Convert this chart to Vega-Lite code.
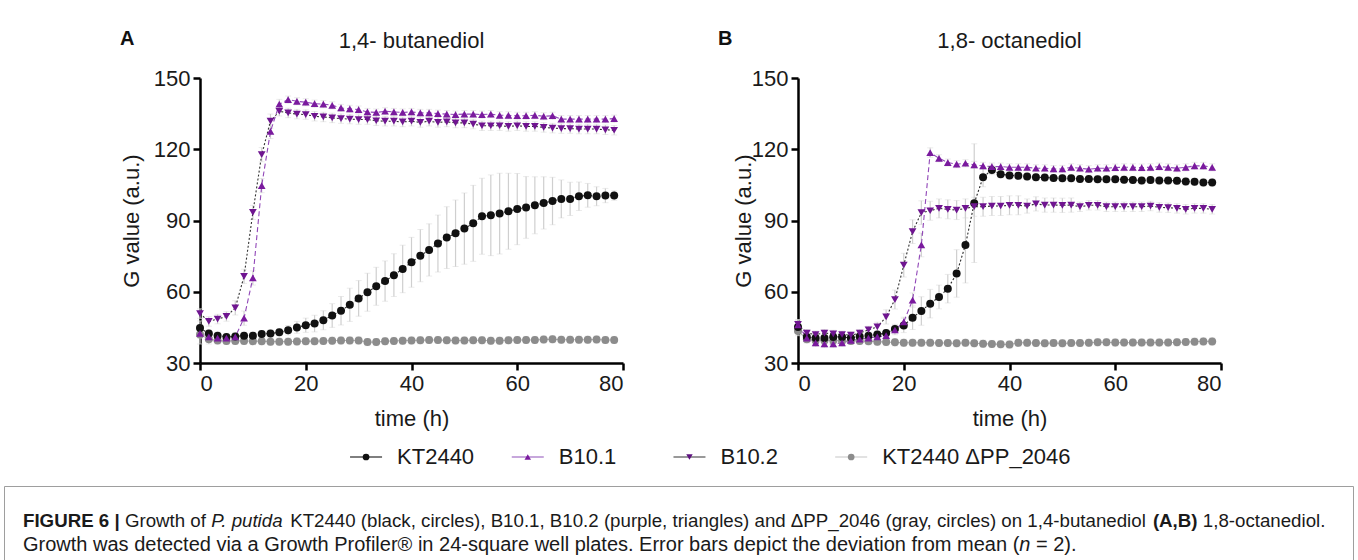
{
"$schema": "https://vega.github.io/schema/vega-lite/v6.json",
"padding": {"left": 3, "top": 28, "right": 0, "bottom": 0},
"background": "white",
"config": {
  "font": "Liberation Sans",
  "view": {"stroke": null},
  "axis": {"grid": false, "domainColor": "#000000", "domainWidth": 2.5, "tickColor": "#000000", "tickWidth": 2.5, "tickSize": 7, "labelFont": "Liberation Sans", "labelFontSize": 22, "labelColor": "#1a1a1a", "labelPadding": 3, "titleFont": "Liberation Sans", "titleFontSize": 22, "titleFontWeight": "normal", "titleColor": "#1a1a1a"},
  "axisX": {"titlePadding": 14}
},
"datasets": {
"labels": [
{"key":"A1","label":"A"},
{"key":"A2","label":"1,4- butanediol"},
{"key":"B1","label":"B"},
{"key":"B2","label":"1,8- octanediol"}
],
"legendrows": [
{"strain":"KT2440"},
{"strain":"B10.1"},
{"strain":"B10.2"},
{"strain":"KT2440 ΔPP_2046"}
],
"growth": [
{"panel":"A","strain":"KT2440","t":0,"g":44.7,"err":3},
{"panel":"A","strain":"KT2440","t":1.67,"g":42.4,"err":1.5},
{"panel":"A","strain":"KT2440","t":3.33,"g":41.5,"err":1.5},
{"panel":"A","strain":"KT2440","t":5,"g":41.0,"err":1.5},
{"panel":"A","strain":"KT2440","t":6.67,"g":41.2,"err":1.5},
{"panel":"A","strain":"KT2440","t":8.33,"g":41.5,"err":1.5},
{"panel":"A","strain":"KT2440","t":10,"g":41.5,"err":1.5},
{"panel":"A","strain":"KT2440","t":11.67,"g":42.2,"err":1.5},
{"panel":"A","strain":"KT2440","t":13.33,"g":42.4,"err":1.5},
{"panel":"A","strain":"KT2440","t":15,"g":42.9,"err":1.5},
{"panel":"A","strain":"KT2440","t":16.67,"g":43.8,"err":2},
{"panel":"A","strain":"KT2440","t":18.33,"g":45.0,"err":2.5},
{"panel":"A","strain":"KT2440","t":20,"g":45.9,"err":3},
{"panel":"A","strain":"KT2440","t":21.67,"g":46.6,"err":3.5},
{"panel":"A","strain":"KT2440","t":23.33,"g":48.0,"err":4},
{"panel":"A","strain":"KT2440","t":25,"g":50.0,"err":5},
{"panel":"A","strain":"KT2440","t":26.67,"g":52.0,"err":6},
{"panel":"A","strain":"KT2440","t":28.33,"g":54.5,"err":7},
{"panel":"A","strain":"KT2440","t":30,"g":57.2,"err":7.5},
{"panel":"A","strain":"KT2440","t":31.67,"g":59.8,"err":8},
{"panel":"A","strain":"KT2440","t":33.33,"g":62.3,"err":8},
{"panel":"A","strain":"KT2440","t":35,"g":64.5,"err":8.5},
{"panel":"A","strain":"KT2440","t":36.67,"g":67.0,"err":9},
{"panel":"A","strain":"KT2440","t":38.33,"g":69.6,"err":10},
{"panel":"A","strain":"KT2440","t":40,"g":72.4,"err":10.5},
{"panel":"A","strain":"KT2440","t":41.67,"g":75.2,"err":11},
{"panel":"A","strain":"KT2440","t":43.33,"g":77.6,"err":11},
{"panel":"A","strain":"KT2440","t":45,"g":80.3,"err":12},
{"panel":"A","strain":"KT2440","t":46.67,"g":82.8,"err":13},
{"panel":"A","strain":"KT2440","t":48.33,"g":84.6,"err":14},
{"panel":"A","strain":"KT2440","t":50,"g":86.6,"err":15},
{"panel":"A","strain":"KT2440","t":51.67,"g":88.8,"err":16},
{"panel":"A","strain":"KT2440","t":53.33,"g":91.8,"err":16},
{"panel":"A","strain":"KT2440","t":55,"g":92.2,"err":17},
{"panel":"A","strain":"KT2440","t":56.67,"g":92.9,"err":17},
{"panel":"A","strain":"KT2440","t":58.33,"g":93.9,"err":16},
{"panel":"A","strain":"KT2440","t":60,"g":94.8,"err":15},
{"panel":"A","strain":"KT2440","t":61.67,"g":95.5,"err":13},
{"panel":"A","strain":"KT2440","t":63.33,"g":96.4,"err":12},
{"panel":"A","strain":"KT2440","t":65,"g":97.4,"err":11},
{"panel":"A","strain":"KT2440","t":66.67,"g":98.2,"err":10},
{"panel":"A","strain":"KT2440","t":68.33,"g":99.1,"err":8},
{"panel":"A","strain":"KT2440","t":70,"g":99.1,"err":7},
{"panel":"A","strain":"KT2440","t":71.67,"g":100.2,"err":6},
{"panel":"A","strain":"KT2440","t":73.33,"g":100.6,"err":5},
{"panel":"A","strain":"KT2440","t":75,"g":100.2,"err":4},
{"panel":"A","strain":"KT2440","t":76.67,"g":100.5,"err":3},
{"panel":"A","strain":"KT2440","t":78.33,"g":100.5,"err":2},
{"panel":"A","strain":"B10.1","t":0,"g":42.5,"err":2},
{"panel":"A","strain":"B10.1","t":1.67,"g":41.0,"err":1.5},
{"panel":"A","strain":"B10.1","t":3.33,"g":40.5,"err":1.5},
{"panel":"A","strain":"B10.1","t":5,"g":40.5,"err":1.5},
{"panel":"A","strain":"B10.1","t":6.67,"g":41.0,"err":1.5},
{"panel":"A","strain":"B10.1","t":8.33,"g":48.9,"err":3},
{"panel":"A","strain":"B10.1","t":10,"g":65.8,"err":3},
{"panel":"A","strain":"B10.1","t":11.67,"g":104.7,"err":3},
{"panel":"A","strain":"B10.1","t":13.33,"g":127.5,"err":3},
{"panel":"A","strain":"B10.1","t":15,"g":139.0,"err":2},
{"panel":"A","strain":"B10.1","t":16.67,"g":140.9,"err":1.5},
{"panel":"A","strain":"B10.1","t":18.33,"g":140.2,"err":1.5},
{"panel":"A","strain":"B10.1","t":20,"g":139.8,"err":1.5},
{"panel":"A","strain":"B10.1","t":21.67,"g":139.2,"err":1.5},
{"panel":"A","strain":"B10.1","t":23.33,"g":139.0,"err":1.5},
{"panel":"A","strain":"B10.1","t":25,"g":138.5,"err":1.5},
{"panel":"A","strain":"B10.1","t":26.67,"g":137.4,"err":1.5},
{"panel":"A","strain":"B10.1","t":28.33,"g":137.0,"err":1.5},
{"panel":"A","strain":"B10.1","t":30,"g":136.7,"err":1.5},
{"panel":"A","strain":"B10.1","t":31.67,"g":135.7,"err":1.5},
{"panel":"A","strain":"B10.1","t":33.33,"g":135.5,"err":1.5},
{"panel":"A","strain":"B10.1","t":35,"g":136.0,"err":1.5},
{"panel":"A","strain":"B10.1","t":36.67,"g":135.7,"err":1.5},
{"panel":"A","strain":"B10.1","t":38.33,"g":135.5,"err":1.5},
{"panel":"A","strain":"B10.1","t":40,"g":135.7,"err":1.5},
{"panel":"A","strain":"B10.1","t":41.67,"g":135.3,"err":1.5},
{"panel":"A","strain":"B10.1","t":43.33,"g":135.3,"err":1.5},
{"panel":"A","strain":"B10.1","t":45,"g":135.0,"err":1.5},
{"panel":"A","strain":"B10.1","t":46.67,"g":134.8,"err":1.5},
{"panel":"A","strain":"B10.1","t":48.33,"g":134.6,"err":1.5},
{"panel":"A","strain":"B10.1","t":50,"g":134.8,"err":1.5},
{"panel":"A","strain":"B10.1","t":51.67,"g":134.8,"err":1.5},
{"panel":"A","strain":"B10.1","t":53.33,"g":134.6,"err":1.5},
{"panel":"A","strain":"B10.1","t":55,"g":134.8,"err":1.5},
{"panel":"A","strain":"B10.1","t":56.67,"g":134.3,"err":1.5},
{"panel":"A","strain":"B10.1","t":58.33,"g":134.3,"err":1.5},
{"panel":"A","strain":"B10.1","t":60,"g":134.1,"err":1.5},
{"panel":"A","strain":"B10.1","t":61.67,"g":134.1,"err":1.5},
{"panel":"A","strain":"B10.1","t":63.33,"g":134.3,"err":1.5},
{"panel":"A","strain":"B10.1","t":65,"g":133.9,"err":1.5},
{"panel":"A","strain":"B10.1","t":66.67,"g":134.1,"err":1.5},
{"panel":"A","strain":"B10.1","t":68.33,"g":132.7,"err":1.5},
{"panel":"A","strain":"B10.1","t":70,"g":132.7,"err":1.5},
{"panel":"A","strain":"B10.1","t":71.67,"g":132.7,"err":1.5},
{"panel":"A","strain":"B10.1","t":73.33,"g":132.7,"err":1.5},
{"panel":"A","strain":"B10.1","t":75,"g":132.7,"err":1.5},
{"panel":"A","strain":"B10.1","t":76.67,"g":132.7,"err":1.5},
{"panel":"A","strain":"B10.1","t":78.33,"g":132.9,"err":1.5},
{"panel":"A","strain":"B10.2","t":0,"g":50.8,"err":2},
{"panel":"A","strain":"B10.2","t":1.67,"g":47.5,"err":2},
{"panel":"A","strain":"B10.2","t":3.33,"g":48.5,"err":2},
{"panel":"A","strain":"B10.2","t":5,"g":49.6,"err":2},
{"panel":"A","strain":"B10.2","t":6.67,"g":53.2,"err":3},
{"panel":"A","strain":"B10.2","t":8.33,"g":66.5,"err":3},
{"panel":"A","strain":"B10.2","t":10,"g":93.4,"err":3},
{"panel":"A","strain":"B10.2","t":11.67,"g":117.7,"err":3},
{"panel":"A","strain":"B10.2","t":13.33,"g":131.8,"err":3},
{"panel":"A","strain":"B10.2","t":15,"g":136.0,"err":2},
{"panel":"A","strain":"B10.2","t":16.67,"g":135.3,"err":2},
{"panel":"A","strain":"B10.2","t":18.33,"g":134.8,"err":2},
{"panel":"A","strain":"B10.2","t":20,"g":134.6,"err":2},
{"panel":"A","strain":"B10.2","t":21.67,"g":133.9,"err":2},
{"panel":"A","strain":"B10.2","t":23.33,"g":133.6,"err":2},
{"panel":"A","strain":"B10.2","t":25,"g":133.2,"err":2},
{"panel":"A","strain":"B10.2","t":26.67,"g":132.9,"err":2},
{"panel":"A","strain":"B10.2","t":28.33,"g":132.7,"err":2},
{"panel":"A","strain":"B10.2","t":30,"g":132.5,"err":2},
{"panel":"A","strain":"B10.2","t":31.67,"g":132.5,"err":2},
{"panel":"A","strain":"B10.2","t":33.33,"g":132.0,"err":2},
{"panel":"A","strain":"B10.2","t":35,"g":131.8,"err":2},
{"panel":"A","strain":"B10.2","t":36.67,"g":131.8,"err":2},
{"panel":"A","strain":"B10.2","t":38.33,"g":131.5,"err":2},
{"panel":"A","strain":"B10.2","t":40,"g":131.8,"err":2},
{"panel":"A","strain":"B10.2","t":41.67,"g":131.3,"err":2},
{"panel":"A","strain":"B10.2","t":43.33,"g":131.8,"err":2},
{"panel":"A","strain":"B10.2","t":45,"g":131.3,"err":2},
{"panel":"A","strain":"B10.2","t":46.67,"g":131.5,"err":2},
{"panel":"A","strain":"B10.2","t":48.33,"g":131.1,"err":2},
{"panel":"A","strain":"B10.2","t":50,"g":131.1,"err":2},
{"panel":"A","strain":"B10.2","t":51.67,"g":130.6,"err":2},
{"panel":"A","strain":"B10.2","t":53.33,"g":129.9,"err":2},
{"panel":"A","strain":"B10.2","t":55,"g":129.9,"err":2},
{"panel":"A","strain":"B10.2","t":56.67,"g":129.9,"err":2},
{"panel":"A","strain":"B10.2","t":58.33,"g":129.6,"err":2},
{"panel":"A","strain":"B10.2","t":60,"g":129.9,"err":2},
{"panel":"A","strain":"B10.2","t":61.67,"g":129.6,"err":2},
{"panel":"A","strain":"B10.2","t":63.33,"g":129.6,"err":2},
{"panel":"A","strain":"B10.2","t":65,"g":129.2,"err":2},
{"panel":"A","strain":"B10.2","t":66.67,"g":128.9,"err":2},
{"panel":"A","strain":"B10.2","t":68.33,"g":128.7,"err":2},
{"panel":"A","strain":"B10.2","t":70,"g":128.7,"err":2},
{"panel":"A","strain":"B10.2","t":71.67,"g":128.5,"err":2},
{"panel":"A","strain":"B10.2","t":73.33,"g":128.5,"err":2},
{"panel":"A","strain":"B10.2","t":75,"g":128.5,"err":2},
{"panel":"A","strain":"B10.2","t":76.67,"g":128.2,"err":2},
{"panel":"A","strain":"B10.2","t":78.33,"g":128.0,"err":2},
{"panel":"A","strain":"KT2440 ΔPP_2046","t":0,"g":42.0,"err":4},
{"panel":"A","strain":"KT2440 ΔPP_2046","t":1.67,"g":40.0,"err":2},
{"panel":"A","strain":"KT2440 ΔPP_2046","t":3.33,"g":39.5,"err":1.5},
{"panel":"A","strain":"KT2440 ΔPP_2046","t":5,"g":39.3,"err":1.5},
{"panel":"A","strain":"KT2440 ΔPP_2046","t":6.67,"g":39.3,"err":1.5},
{"panel":"A","strain":"KT2440 ΔPP_2046","t":8.33,"g":39.3,"err":1.5},
{"panel":"A","strain":"KT2440 ΔPP_2046","t":10,"g":39.2,"err":1.5},
{"panel":"A","strain":"KT2440 ΔPP_2046","t":11.67,"g":39.2,"err":1.5},
{"panel":"A","strain":"KT2440 ΔPP_2046","t":13.33,"g":39.0,"err":1.5},
{"panel":"A","strain":"KT2440 ΔPP_2046","t":15,"g":39.0,"err":1.5},
{"panel":"A","strain":"KT2440 ΔPP_2046","t":16.67,"g":39.0,"err":1.5},
{"panel":"A","strain":"KT2440 ΔPP_2046","t":18.33,"g":39.1,"err":1.5},
{"panel":"A","strain":"KT2440 ΔPP_2046","t":20,"g":39.2,"err":1.5},
{"panel":"A","strain":"KT2440 ΔPP_2046","t":21.67,"g":39.2,"err":1.5},
{"panel":"A","strain":"KT2440 ΔPP_2046","t":23.33,"g":39.3,"err":1.5},
{"panel":"A","strain":"KT2440 ΔPP_2046","t":25,"g":39.4,"err":1.5},
{"panel":"A","strain":"KT2440 ΔPP_2046","t":26.67,"g":39.5,"err":1.5},
{"panel":"A","strain":"KT2440 ΔPP_2046","t":28.33,"g":39.5,"err":1.5},
{"panel":"A","strain":"KT2440 ΔPP_2046","t":30,"g":39.5,"err":1.5},
{"panel":"A","strain":"KT2440 ΔPP_2046","t":31.67,"g":38.8,"err":1.5},
{"panel":"A","strain":"KT2440 ΔPP_2046","t":33.33,"g":38.8,"err":1.5},
{"panel":"A","strain":"KT2440 ΔPP_2046","t":35,"g":39.2,"err":1.5},
{"panel":"A","strain":"KT2440 ΔPP_2046","t":36.67,"g":39.3,"err":1.5},
{"panel":"A","strain":"KT2440 ΔPP_2046","t":38.33,"g":39.4,"err":1.5},
{"panel":"A","strain":"KT2440 ΔPP_2046","t":40,"g":39.5,"err":1.5},
{"panel":"A","strain":"KT2440 ΔPP_2046","t":41.67,"g":39.6,"err":1.5},
{"panel":"A","strain":"KT2440 ΔPP_2046","t":43.33,"g":39.7,"err":1.5},
{"panel":"A","strain":"KT2440 ΔPP_2046","t":45,"g":39.7,"err":1.5},
{"panel":"A","strain":"KT2440 ΔPP_2046","t":46.67,"g":39.6,"err":1.5},
{"panel":"A","strain":"KT2440 ΔPP_2046","t":48.33,"g":39.5,"err":1.5},
{"panel":"A","strain":"KT2440 ΔPP_2046","t":50,"g":39.5,"err":1.5},
{"panel":"A","strain":"KT2440 ΔPP_2046","t":51.67,"g":39.6,"err":1.5},
{"panel":"A","strain":"KT2440 ΔPP_2046","t":53.33,"g":39.6,"err":1.5},
{"panel":"A","strain":"KT2440 ΔPP_2046","t":55,"g":39.4,"err":1.5},
{"panel":"A","strain":"KT2440 ΔPP_2046","t":56.67,"g":39.4,"err":1.5},
{"panel":"A","strain":"KT2440 ΔPP_2046","t":58.33,"g":39.6,"err":1.5},
{"panel":"A","strain":"KT2440 ΔPP_2046","t":60,"g":39.7,"err":1.5},
{"panel":"A","strain":"KT2440 ΔPP_2046","t":61.67,"g":39.7,"err":1.5},
{"panel":"A","strain":"KT2440 ΔPP_2046","t":63.33,"g":39.7,"err":1.5},
{"panel":"A","strain":"KT2440 ΔPP_2046","t":65,"g":39.9,"err":1.5},
{"panel":"A","strain":"KT2440 ΔPP_2046","t":66.67,"g":40.0,"err":1.5},
{"panel":"A","strain":"KT2440 ΔPP_2046","t":68.33,"g":39.8,"err":1.5},
{"panel":"A","strain":"KT2440 ΔPP_2046","t":70,"g":39.8,"err":1.5},
{"panel":"A","strain":"KT2440 ΔPP_2046","t":71.67,"g":39.8,"err":1.5},
{"panel":"A","strain":"KT2440 ΔPP_2046","t":73.33,"g":39.8,"err":1.5},
{"panel":"A","strain":"KT2440 ΔPP_2046","t":75,"g":39.9,"err":1.5},
{"panel":"A","strain":"KT2440 ΔPP_2046","t":76.67,"g":39.7,"err":1.5},
{"panel":"A","strain":"KT2440 ΔPP_2046","t":78.33,"g":39.7,"err":1.5},
{"panel":"B","strain":"KT2440","t":0,"g":45.2,"err":2},
{"panel":"B","strain":"KT2440","t":1.67,"g":41.0,"err":1.5},
{"panel":"B","strain":"KT2440","t":3.33,"g":40.5,"err":1.5},
{"panel":"B","strain":"KT2440","t":5,"g":40.5,"err":1.5},
{"panel":"B","strain":"KT2440","t":6.67,"g":41.0,"err":1.5},
{"panel":"B","strain":"KT2440","t":8.33,"g":41.0,"err":1.5},
{"panel":"B","strain":"KT2440","t":10,"g":40.5,"err":1.5},
{"panel":"B","strain":"KT2440","t":11.67,"g":41.2,"err":1.5},
{"panel":"B","strain":"KT2440","t":13.33,"g":41.5,"err":1.5},
{"panel":"B","strain":"KT2440","t":15,"g":42.0,"err":1.5},
{"panel":"B","strain":"KT2440","t":16.67,"g":42.6,"err":1.5},
{"panel":"B","strain":"KT2440","t":18.33,"g":44.3,"err":2},
{"panel":"B","strain":"KT2440","t":20,"g":45.8,"err":3},
{"panel":"B","strain":"KT2440","t":21.67,"g":49.1,"err":5},
{"panel":"B","strain":"KT2440","t":23.33,"g":51.9,"err":6},
{"panel":"B","strain":"KT2440","t":25,"g":55.0,"err":6},
{"panel":"B","strain":"KT2440","t":26.67,"g":57.8,"err":5},
{"panel":"B","strain":"KT2440","t":28.33,"g":61.3,"err":6},
{"panel":"B","strain":"KT2440","t":30,"g":67.7,"err":10},
{"panel":"B","strain":"KT2440","t":31.67,"g":79.7,"err":16},
{"panel":"B","strain":"KT2440","t":33.33,"g":97.3,"err":25},
{"panel":"B","strain":"KT2440","t":35,"g":108.2,"err":4},
{"panel":"B","strain":"KT2440","t":36.67,"g":111.3,"err":2},
{"panel":"B","strain":"KT2440","t":38.33,"g":109.5,"err":1.5},
{"panel":"B","strain":"KT2440","t":40,"g":109.0,"err":1.5},
{"panel":"B","strain":"KT2440","t":41.67,"g":108.8,"err":1.5},
{"panel":"B","strain":"KT2440","t":43.33,"g":108.5,"err":1.5},
{"panel":"B","strain":"KT2440","t":45,"g":108.2,"err":1.5},
{"panel":"B","strain":"KT2440","t":46.67,"g":108.1,"err":1.5},
{"panel":"B","strain":"KT2440","t":48.33,"g":107.9,"err":1.5},
{"panel":"B","strain":"KT2440","t":50,"g":107.8,"err":1.5},
{"panel":"B","strain":"KT2440","t":51.67,"g":107.8,"err":1.5},
{"panel":"B","strain":"KT2440","t":53.33,"g":107.5,"err":1.5},
{"panel":"B","strain":"KT2440","t":55,"g":107.5,"err":1.5},
{"panel":"B","strain":"KT2440","t":56.67,"g":107.4,"err":1.5},
{"panel":"B","strain":"KT2440","t":58.33,"g":107.4,"err":1.5},
{"panel":"B","strain":"KT2440","t":60,"g":107.4,"err":1.5},
{"panel":"B","strain":"KT2440","t":61.67,"g":107.2,"err":1.5},
{"panel":"B","strain":"KT2440","t":63.33,"g":107.1,"err":1.5},
{"panel":"B","strain":"KT2440","t":65,"g":106.8,"err":1.5},
{"panel":"B","strain":"KT2440","t":66.67,"g":107.1,"err":1.5},
{"panel":"B","strain":"KT2440","t":68.33,"g":106.8,"err":1.5},
{"panel":"B","strain":"KT2440","t":70,"g":106.8,"err":1.5},
{"panel":"B","strain":"KT2440","t":71.67,"g":106.7,"err":1.5},
{"panel":"B","strain":"KT2440","t":73.33,"g":106.4,"err":1.5},
{"panel":"B","strain":"KT2440","t":75,"g":106.3,"err":1.5},
{"panel":"B","strain":"KT2440","t":76.67,"g":106.0,"err":1.5},
{"panel":"B","strain":"KT2440","t":78.33,"g":106.0,"err":1.5},
{"panel":"B","strain":"B10.1","t":0,"g":46.0,"err":2},
{"panel":"B","strain":"B10.1","t":1.67,"g":40.5,"err":2},
{"panel":"B","strain":"B10.1","t":3.33,"g":38.5,"err":1.5},
{"panel":"B","strain":"B10.1","t":5,"g":38.0,"err":1.5},
{"panel":"B","strain":"B10.1","t":6.67,"g":38.0,"err":1.5},
{"panel":"B","strain":"B10.1","t":8.33,"g":38.5,"err":1.5},
{"panel":"B","strain":"B10.1","t":10,"g":39.5,"err":1.5},
{"panel":"B","strain":"B10.1","t":11.67,"g":40.0,"err":1.5},
{"panel":"B","strain":"B10.1","t":13.33,"g":40.5,"err":1.5},
{"panel":"B","strain":"B10.1","t":15,"g":41.0,"err":1.5},
{"panel":"B","strain":"B10.1","t":16.67,"g":41.5,"err":1.5},
{"panel":"B","strain":"B10.1","t":18.33,"g":43.9,"err":2},
{"panel":"B","strain":"B10.1","t":20,"g":47.3,"err":2},
{"panel":"B","strain":"B10.1","t":21.67,"g":56.5,"err":3},
{"panel":"B","strain":"B10.1","t":23.33,"g":79.7,"err":5},
{"panel":"B","strain":"B10.1","t":25,"g":118.6,"err":2},
{"panel":"B","strain":"B10.1","t":26.67,"g":116.2,"err":1.5},
{"panel":"B","strain":"B10.1","t":28.33,"g":114.4,"err":1.5},
{"panel":"B","strain":"B10.1","t":30,"g":113.7,"err":1.5},
{"panel":"B","strain":"B10.1","t":31.67,"g":114.1,"err":1.5},
{"panel":"B","strain":"B10.1","t":33.33,"g":113.4,"err":1.5},
{"panel":"B","strain":"B10.1","t":35,"g":113.0,"err":1.5},
{"panel":"B","strain":"B10.1","t":36.67,"g":112.7,"err":1.5},
{"panel":"B","strain":"B10.1","t":38.33,"g":112.7,"err":1.5},
{"panel":"B","strain":"B10.1","t":40,"g":112.4,"err":1.5},
{"panel":"B","strain":"B10.1","t":41.67,"g":112.4,"err":1.5},
{"panel":"B","strain":"B10.1","t":43.33,"g":112.4,"err":1.5},
{"panel":"B","strain":"B10.1","t":45,"g":112.0,"err":1.5},
{"panel":"B","strain":"B10.1","t":46.67,"g":112.0,"err":1.5},
{"panel":"B","strain":"B10.1","t":48.33,"g":111.7,"err":1.5},
{"panel":"B","strain":"B10.1","t":50,"g":111.7,"err":1.5},
{"panel":"B","strain":"B10.1","t":51.67,"g":112.4,"err":1.5},
{"panel":"B","strain":"B10.1","t":53.33,"g":112.0,"err":1.5},
{"panel":"B","strain":"B10.1","t":55,"g":111.6,"err":1.5},
{"panel":"B","strain":"B10.1","t":56.67,"g":112.0,"err":1.5},
{"panel":"B","strain":"B10.1","t":58.33,"g":112.0,"err":1.5},
{"panel":"B","strain":"B10.1","t":60,"g":112.3,"err":1.5},
{"panel":"B","strain":"B10.1","t":61.67,"g":112.4,"err":1.5},
{"panel":"B","strain":"B10.1","t":63.33,"g":112.4,"err":1.5},
{"panel":"B","strain":"B10.1","t":65,"g":112.3,"err":1.5},
{"panel":"B","strain":"B10.1","t":66.67,"g":112.4,"err":1.5},
{"panel":"B","strain":"B10.1","t":68.33,"g":112.7,"err":1.5},
{"panel":"B","strain":"B10.1","t":70,"g":112.4,"err":1.5},
{"panel":"B","strain":"B10.1","t":71.67,"g":112.0,"err":1.5},
{"panel":"B","strain":"B10.1","t":73.33,"g":112.4,"err":1.5},
{"panel":"B","strain":"B10.1","t":75,"g":113.0,"err":1.5},
{"panel":"B","strain":"B10.1","t":76.67,"g":113.0,"err":1.5},
{"panel":"B","strain":"B10.1","t":78.33,"g":112.4,"err":1.5},
{"panel":"B","strain":"B10.2","t":0,"g":46.3,"err":2},
{"panel":"B","strain":"B10.2","t":1.67,"g":42.6,"err":1.5},
{"panel":"B","strain":"B10.2","t":3.33,"g":42.0,"err":1.5},
{"panel":"B","strain":"B10.2","t":5,"g":42.6,"err":1.5},
{"panel":"B","strain":"B10.2","t":6.67,"g":42.3,"err":1.5},
{"panel":"B","strain":"B10.2","t":8.33,"g":42.0,"err":1.5},
{"panel":"B","strain":"B10.2","t":10,"g":41.7,"err":1.5},
{"panel":"B","strain":"B10.2","t":11.67,"g":42.6,"err":1.5},
{"panel":"B","strain":"B10.2","t":13.33,"g":44.0,"err":1.5},
{"panel":"B","strain":"B10.2","t":15,"g":45.2,"err":2},
{"panel":"B","strain":"B10.2","t":16.67,"g":49.4,"err":3},
{"panel":"B","strain":"B10.2","t":18.33,"g":56.7,"err":4},
{"panel":"B","strain":"B10.2","t":20,"g":71.2,"err":5},
{"panel":"B","strain":"B10.2","t":21.67,"g":85.3,"err":5},
{"panel":"B","strain":"B10.2","t":23.33,"g":93.3,"err":5},
{"panel":"B","strain":"B10.2","t":25,"g":94.1,"err":4},
{"panel":"B","strain":"B10.2","t":26.67,"g":95.1,"err":4},
{"panel":"B","strain":"B10.2","t":28.33,"g":94.7,"err":4},
{"panel":"B","strain":"B10.2","t":30,"g":94.4,"err":4},
{"panel":"B","strain":"B10.2","t":31.67,"g":95.1,"err":4},
{"panel":"B","strain":"B10.2","t":33.33,"g":95.8,"err":4},
{"panel":"B","strain":"B10.2","t":35,"g":95.8,"err":4},
{"panel":"B","strain":"B10.2","t":36.67,"g":96.1,"err":4},
{"panel":"B","strain":"B10.2","t":38.33,"g":96.1,"err":4},
{"panel":"B","strain":"B10.2","t":40,"g":96.4,"err":4},
{"panel":"B","strain":"B10.2","t":41.67,"g":96.4,"err":4},
{"panel":"B","strain":"B10.2","t":43.33,"g":96.1,"err":3},
{"panel":"B","strain":"B10.2","t":45,"g":97.0,"err":3},
{"panel":"B","strain":"B10.2","t":46.67,"g":96.5,"err":3},
{"panel":"B","strain":"B10.2","t":48.33,"g":96.5,"err":3},
{"panel":"B","strain":"B10.2","t":50,"g":96.4,"err":3},
{"panel":"B","strain":"B10.2","t":51.67,"g":96.5,"err":3},
{"panel":"B","strain":"B10.2","t":53.33,"g":95.8,"err":2},
{"panel":"B","strain":"B10.2","t":55,"g":96.4,"err":2},
{"panel":"B","strain":"B10.2","t":56.67,"g":96.4,"err":2},
{"panel":"B","strain":"B10.2","t":58.33,"g":95.8,"err":2},
{"panel":"B","strain":"B10.2","t":60,"g":95.8,"err":2},
{"panel":"B","strain":"B10.2","t":61.67,"g":95.8,"err":2},
{"panel":"B","strain":"B10.2","t":63.33,"g":95.8,"err":2},
{"panel":"B","strain":"B10.2","t":65,"g":95.8,"err":2},
{"panel":"B","strain":"B10.2","t":66.67,"g":96.1,"err":2},
{"panel":"B","strain":"B10.2","t":68.33,"g":95.5,"err":2},
{"panel":"B","strain":"B10.2","t":70,"g":95.4,"err":2},
{"panel":"B","strain":"B10.2","t":71.67,"g":95.1,"err":2},
{"panel":"B","strain":"B10.2","t":73.33,"g":94.7,"err":2},
{"panel":"B","strain":"B10.2","t":75,"g":95.1,"err":2},
{"panel":"B","strain":"B10.2","t":76.67,"g":95.1,"err":2},
{"panel":"B","strain":"B10.2","t":78.33,"g":94.7,"err":2},
{"panel":"B","strain":"KT2440 ΔPP_2046","t":0,"g":43.5,"err":2},
{"panel":"B","strain":"KT2440 ΔPP_2046","t":1.67,"g":40.0,"err":1.5},
{"panel":"B","strain":"KT2440 ΔPP_2046","t":3.33,"g":39.5,"err":1.5},
{"panel":"B","strain":"KT2440 ΔPP_2046","t":5,"g":39.5,"err":1.5},
{"panel":"B","strain":"KT2440 ΔPP_2046","t":6.67,"g":39.5,"err":1.5},
{"panel":"B","strain":"KT2440 ΔPP_2046","t":8.33,"g":39.3,"err":1.5},
{"panel":"B","strain":"KT2440 ΔPP_2046","t":10,"g":39.3,"err":1.5},
{"panel":"B","strain":"KT2440 ΔPP_2046","t":11.67,"g":39.3,"err":1.5},
{"panel":"B","strain":"KT2440 ΔPP_2046","t":13.33,"g":39.2,"err":1.5},
{"panel":"B","strain":"KT2440 ΔPP_2046","t":15,"g":39.0,"err":1.5},
{"panel":"B","strain":"KT2440 ΔPP_2046","t":16.67,"g":38.8,"err":1.5},
{"panel":"B","strain":"KT2440 ΔPP_2046","t":18.33,"g":38.7,"err":1.5},
{"panel":"B","strain":"KT2440 ΔPP_2046","t":20,"g":38.5,"err":1.5},
{"panel":"B","strain":"KT2440 ΔPP_2046","t":21.67,"g":38.5,"err":1.5},
{"panel":"B","strain":"KT2440 ΔPP_2046","t":23.33,"g":38.5,"err":1.5},
{"panel":"B","strain":"KT2440 ΔPP_2046","t":25,"g":38.5,"err":1.5},
{"panel":"B","strain":"KT2440 ΔPP_2046","t":26.67,"g":38.4,"err":1.5},
{"panel":"B","strain":"KT2440 ΔPP_2046","t":28.33,"g":38.4,"err":1.5},
{"panel":"B","strain":"KT2440 ΔPP_2046","t":30,"g":38.3,"err":1.5},
{"panel":"B","strain":"KT2440 ΔPP_2046","t":31.67,"g":38.5,"err":1.5},
{"panel":"B","strain":"KT2440 ΔPP_2046","t":33.33,"g":38.3,"err":1.5},
{"panel":"B","strain":"KT2440 ΔPP_2046","t":35,"g":38.1,"err":1.5},
{"panel":"B","strain":"KT2440 ΔPP_2046","t":36.67,"g":38.0,"err":1.5},
{"panel":"B","strain":"KT2440 ΔPP_2046","t":38.33,"g":37.9,"err":1.5},
{"panel":"B","strain":"KT2440 ΔPP_2046","t":40,"g":37.8,"err":1.5},
{"panel":"B","strain":"KT2440 ΔPP_2046","t":41.67,"g":38.5,"err":1.5},
{"panel":"B","strain":"KT2440 ΔPP_2046","t":43.33,"g":38.5,"err":1.5},
{"panel":"B","strain":"KT2440 ΔPP_2046","t":45,"g":38.4,"err":1.5},
{"panel":"B","strain":"KT2440 ΔPP_2046","t":46.67,"g":38.3,"err":1.5},
{"panel":"B","strain":"KT2440 ΔPP_2046","t":48.33,"g":38.4,"err":1.5},
{"panel":"B","strain":"KT2440 ΔPP_2046","t":50,"g":38.3,"err":1.5},
{"panel":"B","strain":"KT2440 ΔPP_2046","t":51.67,"g":38.4,"err":1.5},
{"panel":"B","strain":"KT2440 ΔPP_2046","t":53.33,"g":38.4,"err":1.5},
{"panel":"B","strain":"KT2440 ΔPP_2046","t":55,"g":38.5,"err":1.5},
{"panel":"B","strain":"KT2440 ΔPP_2046","t":56.67,"g":38.7,"err":1.5},
{"panel":"B","strain":"KT2440 ΔPP_2046","t":58.33,"g":38.7,"err":1.5},
{"panel":"B","strain":"KT2440 ΔPP_2046","t":60,"g":38.6,"err":1.5},
{"panel":"B","strain":"KT2440 ΔPP_2046","t":61.67,"g":38.6,"err":1.5},
{"panel":"B","strain":"KT2440 ΔPP_2046","t":63.33,"g":38.6,"err":1.5},
{"panel":"B","strain":"KT2440 ΔPP_2046","t":65,"g":38.6,"err":1.5},
{"panel":"B","strain":"KT2440 ΔPP_2046","t":66.67,"g":38.6,"err":1.5},
{"panel":"B","strain":"KT2440 ΔPP_2046","t":68.33,"g":38.6,"err":1.5},
{"panel":"B","strain":"KT2440 ΔPP_2046","t":70,"g":38.6,"err":1.5},
{"panel":"B","strain":"KT2440 ΔPP_2046","t":71.67,"g":38.7,"err":1.5},
{"panel":"B","strain":"KT2440 ΔPP_2046","t":73.33,"g":38.8,"err":1.5},
{"panel":"B","strain":"KT2440 ΔPP_2046","t":75,"g":39.0,"err":1.5},
{"panel":"B","strain":"KT2440 ΔPP_2046","t":76.67,"g":39.1,"err":1.5},
{"panel":"B","strain":"KT2440 ΔPP_2046","t":78.33,"g":39.1,"err":1.5}
],
"caption": [
{"seg":"s1","text":"FIGURE 6 |"},
{"seg":"s2","text":"Growth of"},
{"seg":"s3","text":"P. putida"},
{"seg":"s4","text":"KT2440 (black, circles), B10.1, B10.2 (purple, triangles) and ΔPP_2046 (gray, circles) on 1,4-butanediol"},
{"seg":"s5","text":"(A,B)"},
{"seg":"s6","text":"1,8-octanediol."},
{"seg":"s7","text":"Growth was detected via a Growth Profiler® in 24-square well plates. Error bars depict the deviation from mean ("},
{"seg":"s8","text":"n"},
{"seg":"s9","text":"= 2)."}
]
},
"spacing": 17,
"vconcat": [
{
"spacing": 93,
"hconcat": [
{
"width": 23, "height": 285,
"data": {"name": "labels"},
"transform": [{"filter": "false"}],
"mark": {"type": "point"}
},
{
"width": 423, "height": 285,
"layer": [
{
"data": {"name": "growth"},
"transform": [{"filter": "datum.panel === 'A'"}],
"encoding": {
  "x": {"field": "t", "type": "quantitative", "scale": {"domain": [0, 80], "nice": false, "zero": false}, "axis": {"values": [0, 20, 40, 60, 80], "title": "time (h)"}},
  "y": {"field": "g", "type": "quantitative", "scale": {"domain": [30, 150], "nice": false, "zero": false}, "axis": {"values": [30, 60, 90, 120, 150], "title": "G value (a.u.)", "titlePadding": 10}}
},
"layer": [
  {"mark": {"type": "errorbar", "color": "#cfcfcf", "thickness": 1.2, "ticks": {"size": 6, "color": "#e2e2e2", "thickness": 1}}, "encoding": {"yError": {"field": "err"}}},
  {"mark": {"type": "line", "strokeWidth": 1.1}, "encoding": {
    "stroke": {"field": "strain", "type": "nominal", "scale": {"domain": ["KT2440", "B10.1", "B10.2", "KT2440 ΔPP_2046"], "range": ["#2a2a2a", "#9147b8", "#333333", "#b3b3b3"]}, "legend": null},
    "strokeDash": {"field": "strain", "type": "nominal", "scale": {"domain": ["KT2440", "B10.1", "B10.2", "KT2440 ΔPP_2046"], "range": [[2, 2], [5, 3], [2, 2], [1, 0]]}, "legend": null}}},
  {"transform": [{"filter": "datum.strain === 'KT2440 ΔPP_2046'"}], "mark": {"type": "point", "shape": "circle", "filled": true, "size": 64, "color": "#8c8c8c", "opacity": 1}},
  {"transform": [{"filter": "datum.strain === 'KT2440'"}], "mark": {"type": "point", "shape": "circle", "filled": true, "size": 64, "color": "#111111", "opacity": 1}},
  {"transform": [{"filter": "datum.strain === 'B10.1'"}], "mark": {"type": "point", "shape": "triangle-up", "filled": true, "size": 60, "color": "#7a1a9e", "opacity": 1}},
  {"transform": [{"filter": "datum.strain === 'B10.2'"}], "mark": {"type": "point", "shape": "triangle-down", "filled": true, "size": 60, "color": "#6f1590", "opacity": 1}}
]
},
{"data": {"name": "labels"}, "transform": [{"filter": "datum.key === 'A1'"}], "mark": {"type": "text", "align": "left", "baseline": "alphabetic", "fontSize": 20, "fontWeight": "bold", "color": "#111111"},
 "encoding": {"x": {"datum": -15.13, "type": "quantitative", "scale": {"domain": [0, 80], "nice": false, "zero": false}, "axis": {"values": [0, 20, 40, 60, 80], "title": "time (h)"}}, "y": {"datum": 163.9, "type": "quantitative", "scale": {"domain": [30, 150], "nice": false, "zero": false}, "axis": {"values": [30, 60, 90, 120, 150], "title": "G value (a.u.)", "titlePadding": 10}}, "text": {"field": "label"}}},
{"data": {"name": "labels"}, "transform": [{"filter": "datum.key === 'A2'"}], "mark": {"type": "text", "align": "center", "baseline": "alphabetic", "fontSize": 22, "color": "#1a1a1a"},
 "encoding": {"x": {"datum": 40, "type": "quantitative", "scale": {"domain": [0, 80], "nice": false, "zero": false}, "axis": {"values": [0, 20, 40, 60, 80], "title": "time (h)"}}, "y": {"datum": 162.6, "type": "quantitative", "scale": {"domain": [30, 150], "nice": false, "zero": false}, "axis": {"values": [30, 60, 90, 120, 150], "title": "G value (a.u.)", "titlePadding": 10}}, "text": {"field": "label"}}}
]
},
{
"width": 423, "height": 285,
"layer": [
{
"data": {"name": "growth"},
"transform": [{"filter": "datum.panel === 'B'"}],
"encoding": {
  "x": {"field": "t", "type": "quantitative", "scale": {"domain": [0, 80], "nice": false, "zero": false}, "axis": {"values": [0, 20, 40, 60, 80], "title": "time (h)"}},
  "y": {"field": "g", "type": "quantitative", "scale": {"domain": [30, 150], "nice": false, "zero": false}, "axis": {"values": [30, 60, 90, 120, 150], "title": "G value (a.u.)", "titlePadding": -4}}
},
"layer": [
  {"mark": {"type": "errorbar", "color": "#cfcfcf", "thickness": 1.2, "ticks": {"size": 6, "color": "#e2e2e2", "thickness": 1}}, "encoding": {"yError": {"field": "err"}}},
  {"mark": {"type": "line", "strokeWidth": 1.1}, "encoding": {
    "stroke": {"field": "strain", "type": "nominal", "scale": {"domain": ["KT2440", "B10.1", "B10.2", "KT2440 ΔPP_2046"], "range": ["#2a2a2a", "#9147b8", "#333333", "#b3b3b3"]}, "legend": null},
    "strokeDash": {"field": "strain", "type": "nominal", "scale": {"domain": ["KT2440", "B10.1", "B10.2", "KT2440 ΔPP_2046"], "range": [[2, 2], [5, 3], [2, 2], [1, 0]]}, "legend": null}}},
  {"transform": [{"filter": "datum.strain === 'KT2440 ΔPP_2046'"}], "mark": {"type": "point", "shape": "circle", "filled": true, "size": 64, "color": "#8c8c8c", "opacity": 1}},
  {"transform": [{"filter": "datum.strain === 'KT2440'"}], "mark": {"type": "point", "shape": "circle", "filled": true, "size": 64, "color": "#111111", "opacity": 1}},
  {"transform": [{"filter": "datum.strain === 'B10.1'"}], "mark": {"type": "point", "shape": "triangle-up", "filled": true, "size": 60, "color": "#7a1a9e", "opacity": 1}},
  {"transform": [{"filter": "datum.strain === 'B10.2'"}], "mark": {"type": "point", "shape": "triangle-down", "filled": true, "size": 60, "color": "#6f1590", "opacity": 1}}
]
},
{"data": {"name": "labels"}, "transform": [{"filter": "datum.key === 'B1'"}], "mark": {"type": "text", "align": "left", "baseline": "alphabetic", "fontSize": 20, "fontWeight": "bold", "color": "#111111"},
 "encoding": {"x": {"datum": -15.13, "type": "quantitative", "scale": {"domain": [0, 80], "nice": false, "zero": false}, "axis": {"values": [0, 20, 40, 60, 80], "title": "time (h)"}}, "y": {"datum": 163.9, "type": "quantitative", "scale": {"domain": [30, 150], "nice": false, "zero": false}, "axis": {"values": [30, 60, 90, 120, 150], "title": "G value (a.u.)", "titlePadding": -4}}, "text": {"field": "label"}}},
{"data": {"name": "labels"}, "transform": [{"filter": "datum.key === 'B2'"}], "mark": {"type": "text", "align": "center", "baseline": "alphabetic", "fontSize": 22, "color": "#1a1a1a"},
 "encoding": {"x": {"datum": 40, "type": "quantitative", "scale": {"domain": [0, 80], "nice": false, "zero": false}, "axis": {"values": [0, 20, 40, 60, 80], "title": "time (h)"}}, "y": {"datum": 162.6, "type": "quantitative", "scale": {"domain": [30, 150], "nice": false, "zero": false}, "axis": {"values": [30, 60, 90, 120, 150], "title": "G value (a.u.)", "titlePadding": -4}}, "text": {"field": "label"}}}
]
}
]
},
{
"width": 1349, "height": 22,
"data": {"name": "legendrows"},
"encoding": {
  "x": {"field": "strain", "type": "nominal", "scale": {"type": "point", "domain": ["pad1", "pad2", "KT2440", "B10.1", "B10.2", "KT2440 ΔPP_2046", "pad3", "pad4"], "padding": 0.671, "align": 0.178}, "axis": null},
  "y": {"datum": 0.5, "type": "quantitative", "scale": {"domain": [0, 1], "nice": false}, "axis": null}
},
"layer": [
  {"mark": {"type": "tick", "orient": "horizontal", "size": 32, "thickness": 1.3, "opacity": 1}, "encoding": {"color": {"field": "strain", "type": "nominal", "scale": {"domain": ["KT2440", "B10.1", "B10.2", "KT2440 ΔPP_2046"], "range": ["#555555", "#b48ad0", "#777777", "#d8d8d8"]}, "legend": null}}},
  {"transform": [{"filter": "datum.strain === 'KT2440'"}], "mark": {"type": "point", "shape": "circle", "filled": true, "size": 45, "color": "#111111", "opacity": 1}},
  {"transform": [{"filter": "datum.strain === 'KT2440 ΔPP_2046'"}], "mark": {"type": "point", "shape": "circle", "filled": true, "size": 45, "color": "#8c8c8c", "opacity": 1}},
  {"transform": [{"filter": "datum.strain === 'B10.1'"}], "mark": {"type": "point", "shape": "triangle-up", "filled": true, "size": 42, "color": "#7a1a9e", "opacity": 1}},
  {"transform": [{"filter": "datum.strain === 'B10.2'"}], "mark": {"type": "point", "shape": "triangle-down", "filled": true, "size": 42, "color": "#5e1280", "opacity": 1}},
  {"mark": {"type": "text", "align": "left", "baseline": "middle", "dx": 31, "fontSize": 22, "color": "#1a1a1a"}, "encoding": {"text": {"field": "strain"}}}
]
},
{
"width": 1349, "height": 80,
"view": {"stroke": "#9e9e9e", "strokeWidth": 1},
"data": {"name": "caption"},
"layer": [
  {"transform": [{"filter": "datum.seg === 's1'"}], "mark": {"type": "text", "align": "left", "baseline": "alphabetic", "fontSize": 18.7, "fontWeight": "bold", "color": "#1a1a1a"}, "encoding": {"x": {"datum": 19, "type": "quantitative", "scale": {"domain": [0, 1349], "nice": false}, "axis": null}, "y": {"datum": 40.5, "type": "quantitative", "scale": {"domain": [0, 80], "nice": false, "reverse": true}, "axis": null}, "text": {"field": "text"}}},
  {"transform": [{"filter": "datum.seg === 's2'"}], "mark": {"type": "text", "align": "left", "baseline": "alphabetic", "fontSize": 18.7, "color": "#1a1a1a"}, "encoding": {"x": {"datum": 120.9, "type": "quantitative"}, "y": {"datum": 40.5, "type": "quantitative"}, "text": {"field": "text"}}},
  {"transform": [{"filter": "datum.seg === 's3'"}], "mark": {"type": "text", "align": "left", "baseline": "alphabetic", "fontSize": 18.7, "fontStyle": "italic", "color": "#1a1a1a"}, "encoding": {"x": {"datum": 207.2, "type": "quantitative"}, "y": {"datum": 40.5, "type": "quantitative"}, "text": {"field": "text"}}},
  {"transform": [{"filter": "datum.seg === 's4'"}], "mark": {"type": "text", "align": "left", "baseline": "alphabetic", "fontSize": 18.7, "color": "#1a1a1a"}, "encoding": {"x": {"datum": 286.2, "type": "quantitative"}, "y": {"datum": 40.5, "type": "quantitative"}, "text": {"field": "text"}}},
  {"transform": [{"filter": "datum.seg === 's5'"}], "mark": {"type": "text", "align": "left", "baseline": "alphabetic", "fontSize": 18.7, "fontWeight": "bold", "color": "#1a1a1a"}, "encoding": {"x": {"datum": 1148.9, "type": "quantitative"}, "y": {"datum": 40.5, "type": "quantitative"}, "text": {"field": "text"}}},
  {"transform": [{"filter": "datum.seg === 's6'"}], "mark": {"type": "text", "align": "left", "baseline": "alphabetic", "fontSize": 18.7, "color": "#1a1a1a"}, "encoding": {"x": {"datum": 1198.8, "type": "quantitative"}, "y": {"datum": 40.5, "type": "quantitative"}, "text": {"field": "text"}}},
  {"transform": [{"filter": "datum.seg === 's7'"}], "mark": {"type": "text", "align": "left", "baseline": "alphabetic", "fontSize": 20, "color": "#1a1a1a"}, "encoding": {"x": {"datum": 19, "type": "quantitative"}, "y": {"datum": 65, "type": "quantitative"}, "text": {"field": "text"}}},
  {"transform": [{"filter": "datum.seg === 's8'"}], "mark": {"type": "text", "align": "left", "baseline": "alphabetic", "fontSize": 20, "fontStyle": "italic", "color": "#1a1a1a"}, "encoding": {"x": {"datum": 1015.2, "type": "quantitative"}, "y": {"datum": 65, "type": "quantitative"}, "text": {"field": "text"}}},
  {"transform": [{"filter": "datum.seg === 's9'"}], "mark": {"type": "text", "align": "left", "baseline": "alphabetic", "fontSize": 20, "color": "#1a1a1a"}, "encoding": {"x": {"datum": 1031.9, "type": "quantitative"}, "y": {"datum": 65, "type": "quantitative"}, "text": {"field": "text"}}}
]
}
]
}
